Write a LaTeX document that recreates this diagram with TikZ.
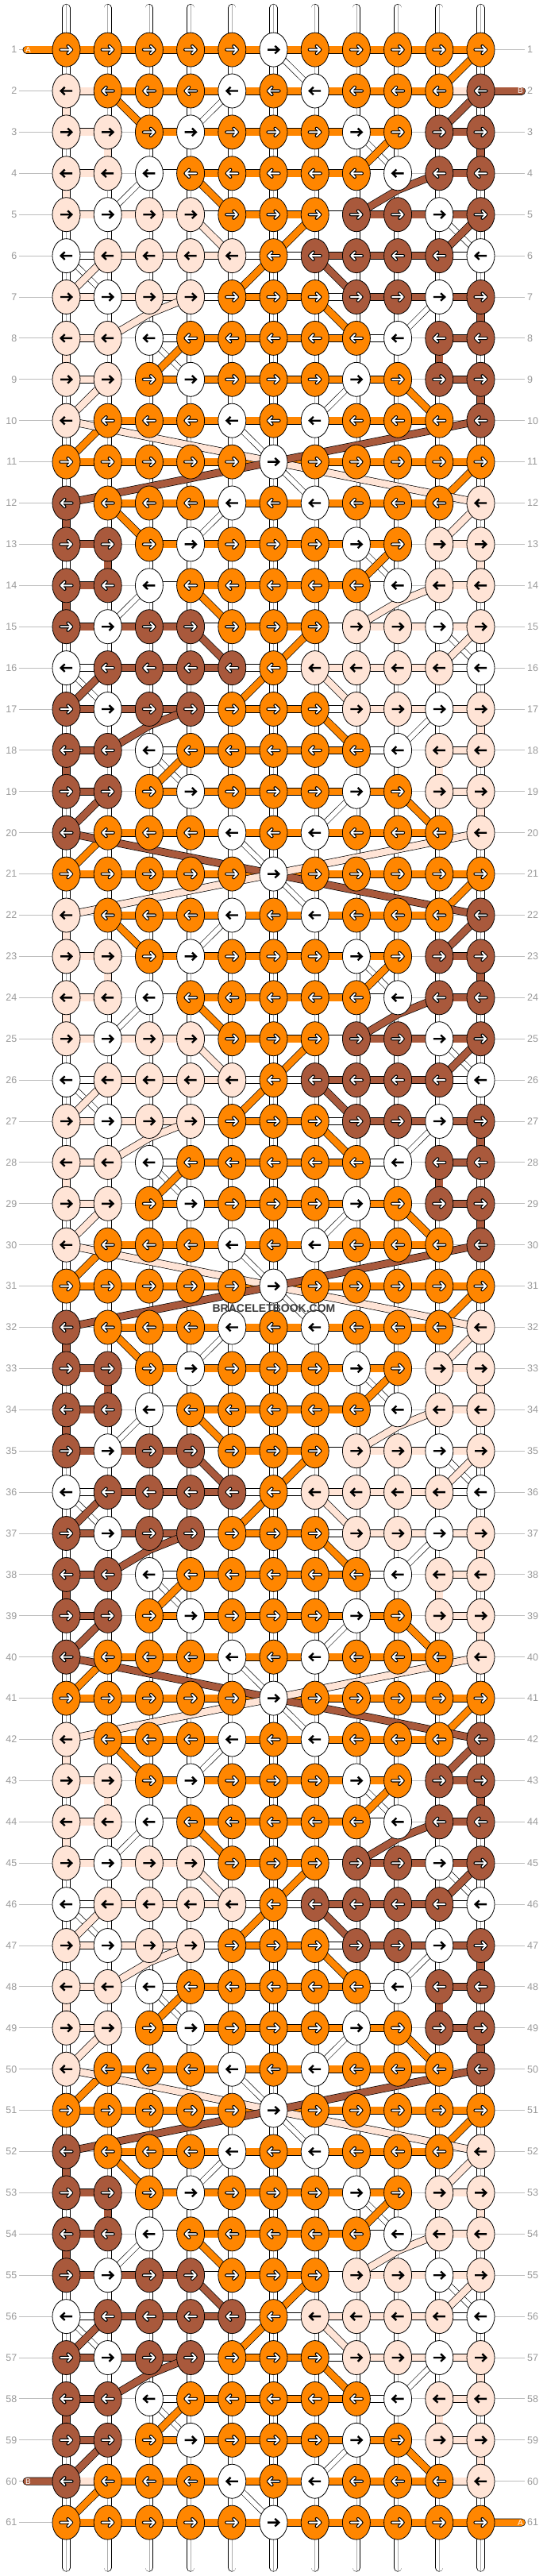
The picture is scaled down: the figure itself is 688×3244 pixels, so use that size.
\documentclass[tikz,border=0pt]{standalone}
\usepackage{fontspec}
\setmainfont{Liberation Sans}
\usetikzlibrary{shapes.geometric,calc}
\definecolor{cO}{HTML}{FF8600}
\definecolor{cB}{HTML}{A9593C}
\definecolor{cP}{HTML}{FFE4D6}
\definecolor{cW}{HTML}{FFFFFF}
\definecolor{gridgray}{HTML}{BDBDBD}
\definecolor{labgray}{HTML}{9A9A9A}
\definecolor{wmgray}{HTML}{3C3C3C}
\pgfdeclarelayer{tubes}\pgfdeclarelayer{vcon}\pgfdeclarelayer{hbars}\pgfdeclarelayer{diags}
\pgfsetlayers{tubes,vcon,hbars,diags,main}
\newcommand\setlist[2]{\expandafter\def\csname #1\endcsname{#2}}
% knot colours per pattern row
\setlist{K1}{O,O,O,O,O,W,O,O,O,O,O}
\setlist{K2}{P,O,O,O,W,O,W,O,O,O,B}
\setlist{K3}{P,P,O,W,O,O,O,W,O,B,B}
\setlist{K4}{P,P,W,O,O,O,O,O,W,B,B}
\setlist{K5}{P,W,P,P,O,O,O,B,B,W,B}
\setlist{K6}{W,P,P,P,P,O,B,B,B,B,W}
\setlist{K7}{P,W,P,P,O,O,O,B,B,W,B}
\setlist{K8}{P,P,W,O,O,O,O,O,W,B,B}
\setlist{K9}{P,P,O,W,O,O,O,W,O,B,B}
\setlist{K10}{P,O,O,O,W,O,W,O,O,O,B}
\setlist{K11}{O,O,O,O,O,W,O,O,O,O,O}
\setlist{K12}{B,O,O,O,W,O,W,O,O,O,P}
\setlist{K13}{B,B,O,W,O,O,O,W,O,P,P}
\setlist{K14}{B,B,W,O,O,O,O,O,W,P,P}
\setlist{K15}{B,W,B,B,O,O,O,P,P,W,P}
\setlist{K16}{W,B,B,B,B,O,P,P,P,P,W}
\setlist{K17}{B,W,B,B,O,O,O,P,P,W,P}
\setlist{K18}{B,B,W,O,O,O,O,O,W,P,P}
\setlist{K19}{B,B,O,W,O,O,O,W,O,P,P}
\setlist{K20}{B,O,O,O,W,O,W,O,O,O,P}
% horizontal bars
\setlist{H1}{O,O,O,O,O,O,O,O,O,O}
\setlist{H2}{N,O,O,O,O,O,O,O,O,N}
\setlist{H3}{P,N,O,O,O,O,O,O,N,B}
\setlist{H4}{P,N,W,O,O,O,O,W,N,B}
\setlist{H5}{P,P,P,W,O,O,W,B,B,B}
\setlist{H6}{W,P,P,P,W,W,B,B,B,W}
\setlist{H7}{P,P,P,W,O,O,W,B,B,B}
\setlist{H8}{P,N,W,O,O,O,O,W,N,B}
\setlist{H9}{P,N,O,O,O,O,O,O,N,B}
\setlist{H10}{N,O,O,O,O,O,O,O,O,N}
\setlist{H11}{O,O,O,O,O,O,O,O,O,O}
\setlist{H12}{N,O,O,O,O,O,O,O,O,N}
\setlist{H13}{B,N,O,O,O,O,O,O,N,P}
\setlist{H14}{B,N,W,O,O,O,O,W,N,P}
\setlist{H15}{B,B,B,W,O,O,W,P,P,P}
\setlist{H16}{W,B,B,B,W,W,P,P,P,W}
\setlist{H17}{B,B,B,W,O,O,W,P,P,P}
\setlist{H18}{B,N,W,O,O,O,O,W,N,P}
\setlist{H19}{B,N,O,O,O,O,O,O,N,P}
\setlist{H20}{N,O,O,O,O,O,O,O,O,N}
\setlist{Hspec}{P,O,O,O,O,O,O,O,O,P}
% coloured vertical links (column/colour)
\setlist{V1}{0/N}
\setlist{V2}{0/N,1/P}
\setlist{V3}{0/N,2/P,11/B}
\setlist{V4}{0/N,1/P}
\setlist{V5}{0/N}
\setlist{V6}{0/N}
\setlist{V7}{0/N,11/B}
\setlist{V8}{0/N,1/P,10/B}
\setlist{V9}{0/N,11/B}
\setlist{V10}{0/N}
\setlist{V11}{0/N}
\setlist{V12}{0/N,1/B}
\setlist{V13}{0/N,2/B,11/P}
\setlist{V14}{0/N,1/B}
\setlist{V15}{0/N}
\setlist{V16}{0/N}
\setlist{V17}{0/N,11/P}
\setlist{V18}{0/N,1/B,10/P}
\setlist{V19}{0/N,11/P}
\setlist{V20}{0/N}
% diagonal links (from column / to column / colour)
\setlist{D1}{6/7/W,11/10/O}
\setlist{D2}{5/4/W,2/3/O,11/10/B}
\setlist{D3}{8/9/W,9/8/O}
\setlist{D4}{3/2/W,4/5/O,10/8/B}
\setlist{D5}{10/11/W,4/5/P,7/6/O,11/10/B}
\setlist{D6}{1/2/W,2/1/P,6/5/O,7/8/B}
\setlist{D7}{10/9/W,4/2/P,7/8/O}
\setlist{D8}{3/4/W,4/3/O}
\setlist{D9}{8/7/W,2/1/P,9/10/O}
\setlist{D10}{5/6/W,2/1/O}
\setlist{D11}{6/7/W,11/10/O}
\setlist{D12}{5/4/W,2/3/O,11/10/P}
\setlist{D13}{8/9/W,9/8/O}
\setlist{D14}{3/2/W,4/5/O,10/8/P}
\setlist{D15}{10/11/W,4/5/B,7/6/O,11/10/P}
\setlist{D16}{1/2/W,2/1/B,6/5/O,7/8/P}
\setlist{D17}{10/9/W,4/2/B,7/8/O}
\setlist{D18}{3/4/W,4/3/O}
\setlist{D19}{8/7/W,2/1/B,9/10/O}
\setlist{D20}{5/6/W,2/1/O}
\newcommand\arrdark[3]{%
 \draw[shift={(#1,#2)},xscale=#3,black,line width=4.2pt,line cap=round,line join=round] (-7,0) -- (6,0) (2,-4.6) -- (6.6,0) -- (2,4.6);
 \draw[shift={(#1,#2)},xscale=#3,white,line width=1.9pt,line cap=round,line join=round] (-7,0) -- (6,0) (2,-4.6) -- (6.6,0) -- (2,4.6);}
\newcommand\arrlight[3]{%
 \draw[shift={(#1,#2)},xscale=#3,black,line width=2.4pt,line join=miter] (-7.5,0) -- (6,0) (1.8,-4.8) -- (6.8,0) -- (1.8,4.8);}
\let\arrO\arrdark \let\arrB\arrdark \let\arrP\arrlight \let\arrW\arrlight
\tikzset{
 knot/.style={ellipse,draw=black,line width=0.8pt,minimum width=35pt,minimum height=43pt,inner sep=0pt},
 hbar/.style={draw=black,line width=0.7pt,double=#1,double distance=8.6pt},
 vbar/.style={draw=black,line width=0.7pt,double=#1,double distance=8.6pt},
 cdiag/.style={draw=black,line width=0.7pt,double=#1,double distance=8.4pt},
 wdiag/.style={draw=black,line width=0.6pt,double=white,double distance=6pt},
 tube/.style={draw=black,line width=0.6pt,double=white,double distance=9pt,line cap=round},
 rowline/.style={draw=gridgray,line width=0.9pt},
 lab/.style={text=labgray,font=\fontsize{12.5}{12.5}\selectfont,inner sep=0pt},
 endlab/.style={text=white,font=\fontsize{10}{10}\selectfont,inner sep=0pt},
 wm/.style={font=\bfseries\fontsize{14}{14}\selectfont,inner sep=0pt},
}
\begin{document}
\begin{tikzpicture}[x=1pt,y=-1pt]
\useasboundingbox (0,0) rectangle (688,3244);
\begin{pgfonlayer}{tubes}
\fill[white] (0,0) rectangle (688,3244);
\end{pgfonlayer}
% knots
\foreach \r in {1,...,61}{
  \pgfmathsetmacro\Y{62.6+(\r-1)*51.9}
  \pgfmathtruncatemacro\k{mod(\r-1,20)+1}
  \pgfmathsetmacro\dir{ifthenelse(mod(\r,2)==1,1,-1)}
  \edef\kl{\csname K\k\endcsname}
  \foreach \cc [count=\c] in \kl {
    \pgfmathsetmacro\X{344.5+(\c-6)*52.2}
    \node[knot,fill=c\cc] (k-\r-\c) at (\X,\Y) {};
    \csname arr\cc\endcsname{\X}{\Y}{\dir}
  }
  \node[lab,anchor=east] (ll-\r) at (21.5,\Y) {\r};
  \node[lab,anchor=west] (rl-\r) at (664,\Y) {\r};
  \begin{pgfonlayer}{tubes}\draw[rowline] (24,\Y) -- (661,\Y);\end{pgfonlayer}
}
% vertical strings
\begin{pgfonlayer}{tubes}
\foreach \c in {1,...,11}{
  \pgfmathsetmacro\X{344.5+(\c-6)*52.2}
  \coordinate (top-\c) at (\X,10);
  \coordinate (bot-\c) at (\X,3233.5);
  \draw[tube] (top-\c) -- (bot-\c);
  \draw[gray!65,line width=0.6pt] (\X,6) -- (\X,3237.5);
}
\end{pgfonlayer}
% coloured vertical links
\begin{pgfonlayer}{vcon}
\foreach \r in {1,...,60}{
  \pgfmathtruncatemacro\k{mod(\r-1,20)+1}
  \pgfmathtruncatemacro\rn{\r+1}
  \edef\vl{\csname V\k\endcsname}
  \foreach \c/\cc in \vl {\ifnum\c>0 \draw[vbar=c\cc] (k-\r-\c.center) -- (k-\rn-\c.center);\fi}
}
\end{pgfonlayer}
% horizontal bars
\begin{pgfonlayer}{hbars}
\foreach \r in {1,...,61}{
  \pgfmathtruncatemacro\k{mod(\r-1,20)+1}
  \edef\hl{\csname H\k\endcsname}
  \ifnum\r=2 \edef\hl{\Hspec}\fi
  \ifnum\r=60 \edef\hl{\Hspec}\fi
  \foreach \cc [count=\c] in \hl {\if N\cc\else\pgfmathtruncatemacro\cn{\c+1}\draw[hbar=c\cc] (k-\r-\c.center) -- (k-\r-\cn.center);\fi}
}
\coordinate (aend1) at (33.6,62.6);
\draw[hbar=cO,line cap=round] (aend1) -- (k-1-1.center);
\coordinate (bend2) at (657,114.5);
\draw[hbar=cB,line cap=round] (k-2-11.center) -- (bend2);
\coordinate (bend60) at (33.6,3124.7);
\draw[hbar=cB,line cap=round] (bend60) -- (k-60-1.center);
\coordinate (aend61) at (657,3176.6);
\draw[hbar=cO,line cap=round] (k-61-11.center) -- (aend61);
\end{pgfonlayer}
% diagonal links
\begin{pgfonlayer}{diags}
\foreach \r in {1,...,60}{
  \pgfmathtruncatemacro\k{mod(\r-1,20)+1}
  \pgfmathtruncatemacro\rn{\r+1}
  \edef\dl{\csname D\k\endcsname}
  \foreach \a/\b/\cc in \dl {%
    \pgfmathtruncatemacro\dd{abs(\a-\b)}%
    \if W\cc\draw[wdiag] (k-\r-\a.center) -- (k-\rn-\b.center);%
    \else\ifnum\dd=2
      \draw[cdiag=c\cc] (k-\r-\a.center) -- ($(k-\r-\a.center)!0.5!(k-\rn-\b.center)+(0,-5)$) -- (k-\rn-\b.center);%
    \else\draw[cdiag=c\cc] (k-\r-\a.center) -- (k-\rn-\b.center);\fi\fi}
}
\foreach \m/\lc/\rc in {10/P/B,20/B/P,30/P/B,40/B/P,50/P/B}{
  \pgfmathtruncatemacro\ma{\m+1}
  \pgfmathtruncatemacro\mb{\m+2}
  \draw[cdiag=c\lc] (k-\m-1.center) -- (k-\ma-6.center) -- (k-\mb-11.center);
  \draw[cdiag=c\rc] (k-\m-11.center) -- (k-\ma-6.center) -- (k-\mb-1.center);
}
\end{pgfonlayer}
% end labels
\node[endlab] (labA1) at (35.5,62.6) {A};
\node[endlab] (labB2) at (655.5,114.5) {B};
\node[endlab] (labB60) at (35.5,3124.7) {B};
\node[endlab] (labA61) at (655.5,3176.6) {A};
% watermark
\node[wm,text=wmgray] (wmark) at (345,1648) {BRACELETBOOK.COM};
\end{tikzpicture}
\end{document}
